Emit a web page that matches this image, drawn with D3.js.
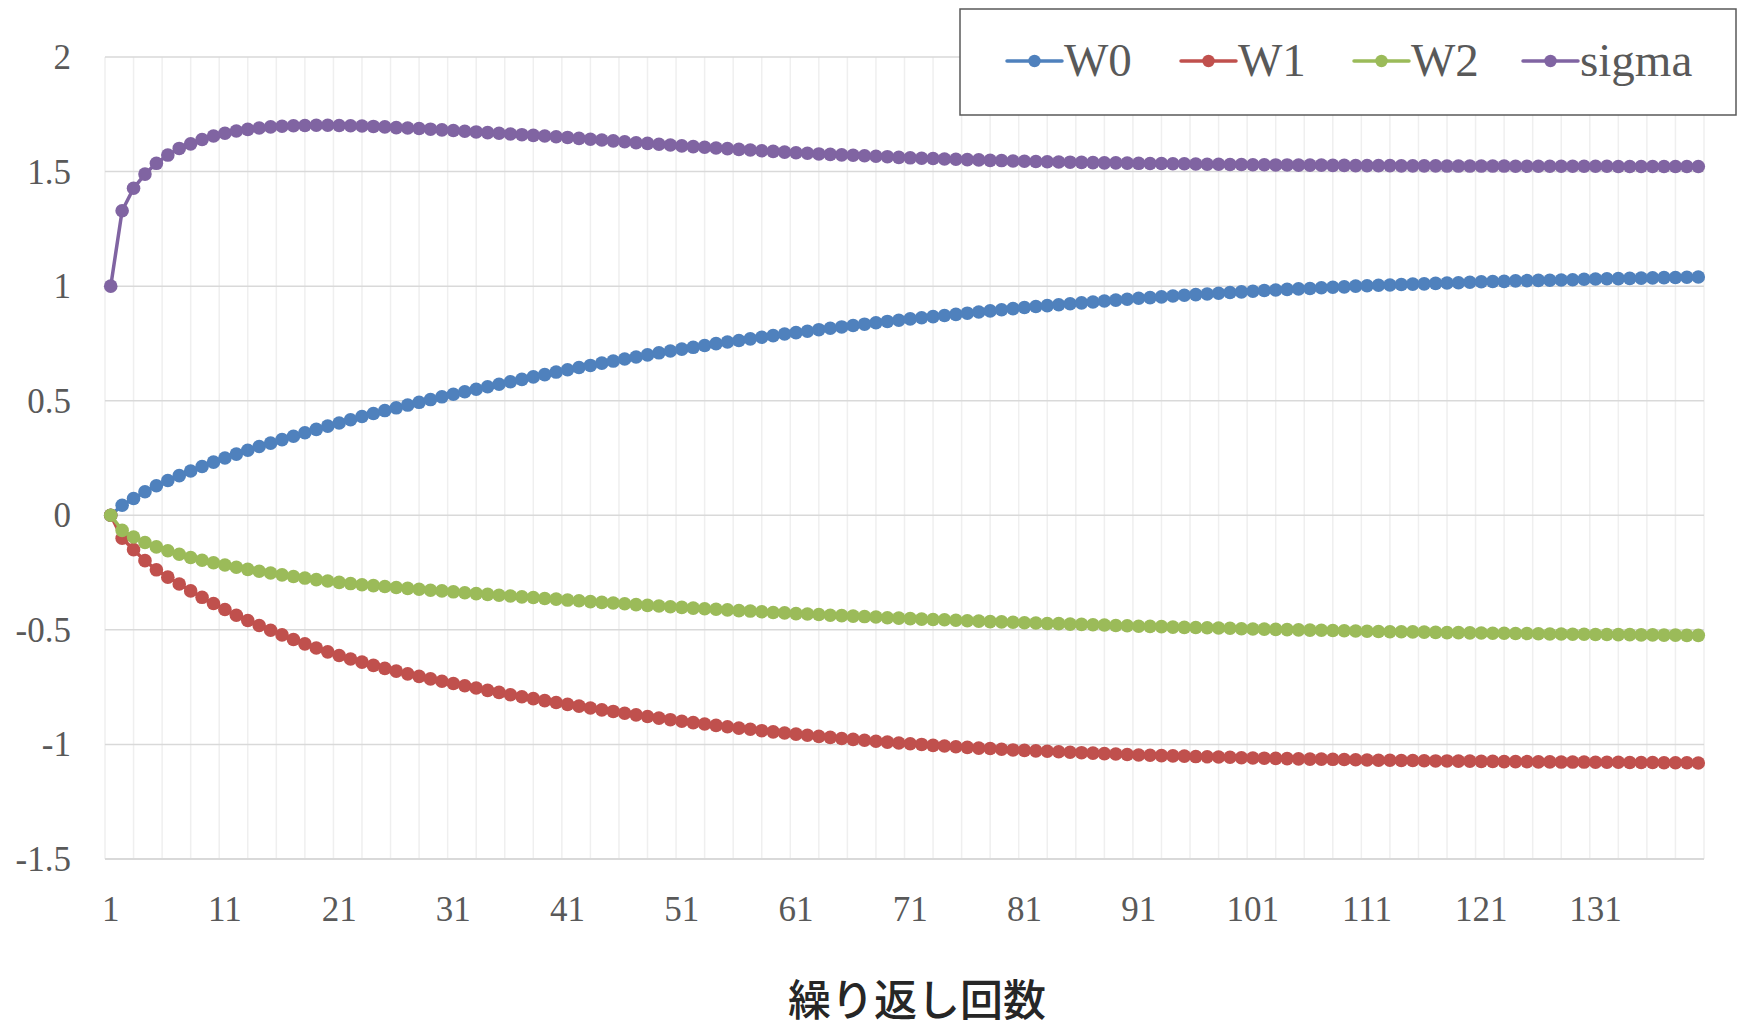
<!DOCTYPE html>
<html>
<head>
<meta charset="utf-8">
<script src="https://cdn.jsdelivr.net/npm/d3@7"></script>
<style>
  html, body { margin: 0; padding: 0; background: #fff; }
  svg { display: block; }
</style>
</head>
<body>
<svg id="chart" width="1743" height="1027"></svg>
<script>
// Iteration numbers 1..140 on the category axis
const iterations = d3.range(1, 141);
const xTickLabels = ["1", "11", "21", "31", "41", "51", "61", "71", "81", "91", "101", "111", "121", "131"];
const yTickValues = [-1.5, -1, -0.5, 0, 0.5, 1, 1.5, 2];
const seriesNames = ["W0", "W1", "W2", "sigma"];
const xTitle = "繰り返し回数";

const w0 = [
  0.000, 0.044, 0.073, 0.103, 0.129, 0.152, 0.173, 0.193, 0.213, 0.232,
  0.250, 0.267, 0.284, 0.300, 0.315, 0.330, 0.345, 0.360, 0.375, 0.389,
  0.403, 0.417, 0.431, 0.444, 0.457, 0.469, 0.481, 0.493, 0.505, 0.517,
  0.528, 0.539, 0.550, 0.561, 0.572, 0.583, 0.593, 0.604, 0.614, 0.625,
  0.635, 0.645, 0.654, 0.664, 0.673, 0.682, 0.691, 0.700, 0.709, 0.717,
  0.725, 0.733, 0.741, 0.749, 0.756, 0.763, 0.770, 0.777, 0.784, 0.791,
  0.797, 0.803, 0.810, 0.816, 0.822, 0.828, 0.834, 0.840, 0.846, 0.851,
  0.857, 0.862, 0.867, 0.872, 0.877, 0.882, 0.887, 0.892, 0.897, 0.902,
  0.907, 0.911, 0.915, 0.919, 0.923, 0.927, 0.931, 0.935, 0.939, 0.943,
  0.947, 0.950, 0.953, 0.957, 0.960, 0.963, 0.966, 0.969, 0.972, 0.975,
  0.978, 0.981, 0.983, 0.986, 0.988, 0.990, 0.993, 0.995, 0.997, 1.000,
  1.002, 1.004, 1.005, 1.007, 1.009, 1.010, 1.012, 1.014, 1.015, 1.017,
  1.019, 1.020, 1.021, 1.023, 1.024, 1.025, 1.026, 1.027, 1.028, 1.030,
  1.031, 1.032, 1.033, 1.034, 1.035, 1.036, 1.037, 1.038, 1.039, 1.040
];

const w1 = [
  0.000, -0.100, -0.150, -0.198, -0.238, -0.270, -0.300, -0.330, -0.358, -0.385,
  -0.411, -0.436, -0.459, -0.481, -0.502, -0.522, -0.542, -0.561, -0.579, -0.596,
  -0.612, -0.627, -0.641, -0.655, -0.668, -0.680, -0.692, -0.703, -0.714, -0.724,
  -0.734, -0.744, -0.754, -0.764, -0.773, -0.783, -0.792, -0.800, -0.809, -0.817,
  -0.825, -0.833, -0.841, -0.849, -0.856, -0.864, -0.871, -0.878, -0.885, -0.892,
  -0.899, -0.905, -0.911, -0.917, -0.923, -0.929, -0.934, -0.940, -0.945, -0.950,
  -0.955, -0.960, -0.965, -0.969, -0.974, -0.978, -0.982, -0.986, -0.990, -0.994,
  -0.997, -1.000, -1.004, -1.007, -1.010, -1.013, -1.016, -1.018, -1.021, -1.024,
  -1.026, -1.028, -1.030, -1.032, -1.034, -1.036, -1.038, -1.040, -1.042, -1.044,
  -1.046, -1.047, -1.049, -1.050, -1.051, -1.053, -1.054, -1.055, -1.056, -1.058,
  -1.059, -1.060, -1.061, -1.062, -1.063, -1.064, -1.064, -1.065, -1.066, -1.067,
  -1.068, -1.069, -1.069, -1.070, -1.070, -1.071, -1.072, -1.072, -1.073, -1.073,
  -1.074, -1.074, -1.075, -1.075, -1.075, -1.076, -1.076, -1.077, -1.077, -1.077,
  -1.078, -1.078, -1.078, -1.079, -1.079, -1.079, -1.080, -1.080, -1.080, -1.081
];

const w2 = [
  0.000, -0.066, -0.095, -0.119, -0.138, -0.155, -0.170, -0.184, -0.196, -0.207,
  -0.217, -0.227, -0.236, -0.244, -0.252, -0.260, -0.267, -0.274, -0.281, -0.287,
  -0.293, -0.298, -0.303, -0.307, -0.311, -0.315, -0.319, -0.323, -0.327, -0.330,
  -0.334, -0.338, -0.342, -0.345, -0.349, -0.352, -0.356, -0.359, -0.363, -0.366,
  -0.370, -0.373, -0.377, -0.380, -0.383, -0.386, -0.390, -0.393, -0.396, -0.399,
  -0.402, -0.405, -0.408, -0.410, -0.413, -0.416, -0.418, -0.421, -0.424, -0.426,
  -0.429, -0.431, -0.433, -0.436, -0.438, -0.440, -0.442, -0.444, -0.447, -0.449,
  -0.451, -0.453, -0.455, -0.456, -0.458, -0.460, -0.462, -0.464, -0.465, -0.467,
  -0.469, -0.470, -0.472, -0.473, -0.475, -0.476, -0.478, -0.479, -0.481, -0.482,
  -0.484, -0.485, -0.486, -0.488, -0.489, -0.490, -0.491, -0.492, -0.493, -0.495,
  -0.496, -0.497, -0.498, -0.499, -0.500, -0.501, -0.502, -0.503, -0.504, -0.505,
  -0.506, -0.507, -0.508, -0.508, -0.509, -0.510, -0.511, -0.512, -0.512, -0.513,
  -0.514, -0.515, -0.515, -0.516, -0.516, -0.517, -0.518, -0.518, -0.519, -0.519,
  -0.520, -0.520, -0.521, -0.521, -0.522, -0.522, -0.523, -0.523, -0.524, -0.524
];

const sigma = [
  1.000, 1.329, 1.427, 1.489, 1.536, 1.572, 1.601, 1.621, 1.640, 1.655,
  1.667, 1.677, 1.684, 1.690, 1.695, 1.698, 1.700, 1.701, 1.702, 1.702,
  1.701, 1.700, 1.699, 1.697, 1.695, 1.692, 1.690, 1.688, 1.685, 1.682,
  1.679, 1.676, 1.673, 1.670, 1.667, 1.664, 1.661, 1.658, 1.655, 1.652,
  1.649, 1.645, 1.641, 1.638, 1.634, 1.630, 1.626, 1.623, 1.619, 1.616,
  1.612, 1.609, 1.606, 1.603, 1.600, 1.597, 1.594, 1.591, 1.588, 1.585,
  1.582, 1.580, 1.577, 1.575, 1.573, 1.571, 1.569, 1.567, 1.565, 1.562,
  1.560, 1.558, 1.557, 1.555, 1.554, 1.552, 1.551, 1.549, 1.548, 1.546,
  1.545, 1.544, 1.543, 1.542, 1.541, 1.540, 1.539, 1.538, 1.538, 1.537,
  1.536, 1.535, 1.535, 1.534, 1.534, 1.533, 1.532, 1.532, 1.531, 1.531,
  1.530, 1.530, 1.529, 1.529, 1.528, 1.528, 1.528, 1.527, 1.527, 1.526,
  1.526, 1.526, 1.526, 1.525, 1.525, 1.525, 1.525, 1.524, 1.524, 1.524,
  1.524, 1.524, 1.524, 1.523, 1.523, 1.523, 1.523, 1.523, 1.523, 1.523,
  1.523, 1.523, 1.522, 1.522, 1.522, 1.522, 1.522, 1.522, 1.522, 1.522
];

const seriesValues = [w0, w1, w2, sigma];
const seriesColors = ["#4F81BD", "#C0504D", "#9BBB59", "#8064A2"];

const svg = d3.select("#chart");
const plot = { left: 105, right: 1704, top: 57, bottom: 859 };

const x = d3.scaleBand()
  .domain(iterations)
  .range([plot.left, plot.right])
  .paddingInner(0)
  .paddingOuter(0);
const xc = d => x(d) + x.bandwidth() / 2;

const y = d3.scaleLinear()
  .domain([-1.5, 2])
  .range([plot.bottom, plot.top]);

// vertical gridlines every 2.5 categories, counted in band units
const gridX = d3.scaleLinear().domain([0, iterations.length]).range([plot.left, plot.right]);
const gridSteps = d3.range(0, iterations.length + 0.001, 2.5);

const grid = svg.append("g");
grid.selectAll("line.v")
  .data(gridSteps)
  .join("line")
  .attr("class", "v")
  .attr("x1", d => gridX(d)).attr("x2", d => gridX(d))
  .attr("y1", plot.top).attr("y2", plot.bottom)
  .attr("stroke", "#efefef")
  .attr("stroke-width", 1.5);

grid.selectAll("line.h")
  .data(yTickValues)
  .join("line")
  .attr("class", "h")
  .attr("x1", plot.left).attr("x2", plot.right)
  .attr("y1", d => y(d)).attr("y2", d => y(d))
  .attr("stroke", "#d9d9d9")
  .attr("stroke-width", d => d === -1.5 ? 2 : 1.5);

// Y axis labels
const yAxis = d3.axisLeft(y).tickValues(yTickValues).tickSize(0).tickPadding(0).tickFormat(d => String(d));
const yAxisG = svg.append("g")
  .attr("transform", `translate(71,0)`)
  .call(yAxis);
yAxisG.select(".domain").remove();
yAxisG.selectAll("text")
  .attr("font-family", "'Liberation Serif', 'Times New Roman', serif")
  .attr("font-size", 35)
  .attr("fill", "#595959")
  .attr("dy", "0.33em");

// X axis labels
const xAxis = d3.axisBottom(x)
  .tickValues(iterations.filter(d => xTickLabels.includes(String(d))))
  .tickSize(0).tickPadding(0);
const xAxisG = svg.append("g")
  .attr("transform", `translate(0,${plot.bottom})`)
  .call(xAxis);
xAxisG.select(".domain").remove();
xAxisG.selectAll("text")
  .attr("font-family", "'Liberation Serif', 'Times New Roman', serif")
  .attr("font-size", 35)
  .attr("fill", "#595959")
  .attr("y", 62)
  .attr("dy", 0);

// Series: line then markers, in legend order
const line = d3.line()
  .x((d, i) => xc(iterations[i]))
  .y(d => y(d));

seriesValues.forEach((vals, s) => {
  const g = svg.append("g");
  g.append("path")
    .datum(vals)
    .attr("d", line)
    .attr("fill", "none")
    .attr("stroke", seriesColors[s])
    .attr("stroke-width", 3.5)
    .attr("stroke-linejoin", "round");
  g.selectAll("circle")
    .data(vals)
    .join("circle")
    .attr("cx", (d, i) => xc(iterations[i]))
    .attr("cy", d => y(d))
    .attr("r", 6.8)
    .attr("fill", seriesColors[s]);
});

// Legend box
const legend = svg.append("g");
legend.append("rect")
  .attr("x", 960).attr("y", 9)
  .attr("width", 776).attr("height", 106)
  .attr("fill", "#fff")
  .attr("stroke", "#595959")
  .attr("stroke-width", 1.5);

const legendX = [1007, 1181, 1354, 1523];
seriesNames.forEach((name, s) => {
  const lx = legendX[s];
  const ly = 61;
  legend.append("line")
    .attr("x1", lx).attr("x2", lx + 55)
    .attr("y1", ly).attr("y2", ly)
    .attr("stroke", seriesColors[s])
    .attr("stroke-width", 3.5)
    .attr("stroke-linecap", "round");
  legend.append("circle")
    .attr("cx", lx + 27.5).attr("cy", ly)
    .attr("r", 6.2)
    .attr("fill", seriesColors[s]);
  legend.append("text")
    .attr("x", lx + 57).attr("y", ly)
    .attr("dy", "0.32em")
    .attr("font-family", "'Liberation Serif', 'Times New Roman', serif")
    .attr("font-size", 47)
    .attr("fill", "#595959")
    .text(name);
});

// Axis title
svg.append("text")
  .attr("x", 917).attr("y", 1016)
  .attr("text-anchor", "middle")
  .attr("font-family", "'Noto Sans CJK JP', 'Noto Sans', sans-serif")
  .attr("font-size", 43)
  .attr("font-weight", 500)
  .attr("fill", "#262626")
  .text(xTitle);
</script>
</body>
</html>
